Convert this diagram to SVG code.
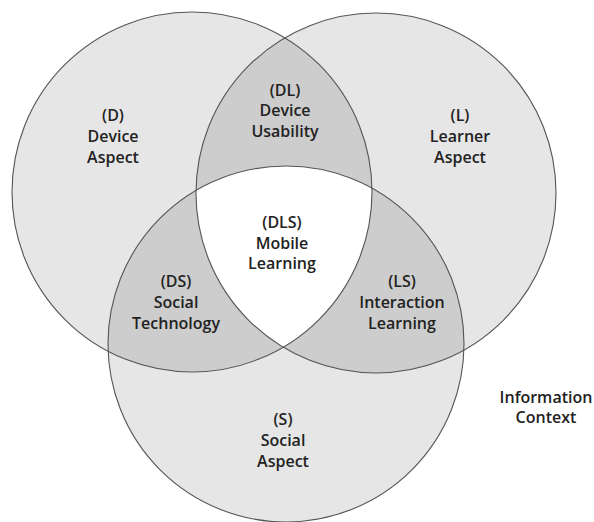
<svg xmlns="http://www.w3.org/2000/svg" width="594" height="522" viewBox="0 0 594 522">
<style>
.lbl{font-family:"Open Sans","Liberation Sans",sans-serif;font-weight:600;font-size:16px;fill:#222;text-anchor:middle}
.ring{fill:none;stroke:#555;stroke-width:1.1}
</style>
<defs>
<clipPath id="cD"><circle cx="192" cy="192" r="180"/></clipPath>
<clipPath id="cL"><circle cx="376" cy="193" r="180"/></clipPath>
<clipPath id="cS"><circle cx="286" cy="344" r="178"/></clipPath>
</defs>
<rect width="594" height="522" fill="#ffffff"/>
<g id="fills">
<circle cx="192" cy="192" r="180" fill="#e6e6e6"/>
<circle cx="376" cy="193" r="180" fill="#e6e6e6"/>
<circle cx="286" cy="344" r="178" fill="#e6e6e6"/>
<g clip-path="url(#cD)"><circle cx="376" cy="193" r="180" fill="#cdcdcd"/><circle cx="286" cy="344" r="178" fill="#cdcdcd"/></g>
<g clip-path="url(#cL)"><circle cx="286" cy="344" r="178" fill="#cdcdcd"/></g>
<g clip-path="url(#cD)"><g clip-path="url(#cL)"><circle cx="286" cy="344" r="178" fill="#ffffff"/></g></g>
</g>
<g id="D"><circle class="ring" cx="192" cy="192" r="180"/>
<text class="lbl" x="113" y="121">(D)</text><text class="lbl" x="113" y="142">Device</text><text class="lbl" x="113" y="163">Aspect</text></g>
<g id="L"><circle class="ring" cx="376" cy="193" r="180"/>
<text class="lbl" x="460" y="121">(L)</text><text class="lbl" x="460" y="142">Learner</text><text class="lbl" x="460" y="163">Aspect</text></g>
<g id="S"><circle class="ring" cx="286" cy="344" r="178"/>
<text class="lbl" x="283" y="425">(S)</text><text class="lbl" x="283" y="446">Social</text><text class="lbl" x="283" y="467">Aspect</text></g>
<g id="DL"><text class="lbl" x="285" y="96">(DL)</text><text class="lbl" x="285" y="116">Device</text><text class="lbl" x="285" y="137">Usability</text></g>
<g id="DLS"><text class="lbl" x="282" y="228">(DLS)</text><text class="lbl" x="282" y="249">Mobile</text><text class="lbl" x="282" y="269">Learning</text></g>
<g id="DS"><text class="lbl" x="176" y="287">(DS)</text><text class="lbl" x="176" y="308">Social</text><text class="lbl" x="176" y="329">Technology</text></g>
<g id="LS"><text class="lbl" x="402" y="287">(LS)</text><text class="lbl" x="402" y="308">Interaction</text><text class="lbl" x="402" y="329">Learning</text></g>
<g id="IC"><text class="lbl" x="546" y="403">Information</text><text class="lbl" x="546" y="423">Context</text></g>
<g id="connectors"/>
</svg>
